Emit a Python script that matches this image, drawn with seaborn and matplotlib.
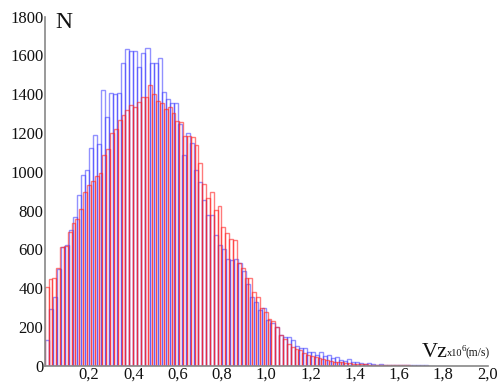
import matplotlib
matplotlib.use("Agg")
import matplotlib.pyplot as plt
import numpy as np
import pandas as pd
import seaborn as sns

# bin widths (units of 1e6 m/s), both series start at 0
blue_width = 0.0182
red_width = 0.01735

blue_counts = [
    133, 291, 356, 497, 612, 625, 700, 769, 880, 983,
    1009, 1124, 1190, 1143, 1422, 1281, 1408, 1400, 1408, 1559,
    1631, 1622, 1622, 1542, 1611, 1636, 1562, 1559, 1585, 1413,
    1374, 1356, 1356, 1245, 1087, 1198, 1150, 1009, 946, 855,
    776, 776, 673, 624, 604, 549, 544, 549, 531, 490,
    420, 353, 330, 290, 296, 236, 220, 198, 159, 147,
    147, 133, 100, 90, 92, 73, 73, 58, 73, 50,
    55, 40, 45, 30, 25, 35, 20, 22, 15, 10,
    12, 8, 6, 10, 6, 5, 6, 4, 6, 3,
    3, 3, 4, 2, 2, 1, 1, 1, 0, 0,
]
red_counts = [
    408, 447, 454, 502, 614, 619, 691, 734, 755, 807,
    897, 930, 950, 978, 992, 1087, 1117, 1202, 1219, 1267,
    1293, 1319, 1344, 1336, 1361, 1387, 1387, 1447, 1399, 1367,
    1353, 1322, 1332, 1302, 1263, 1258, 1185, 1182, 1180, 1138,
    1047, 939, 863, 894, 801, 822, 714, 683, 652, 647,
    531, 502, 451, 451, 379, 353, 300, 276, 240, 230,
    198, 160, 140, 110, 95, 85, 80, 64, 56, 51,
    44, 40, 33, 30, 25, 22, 20, 18, 14, 12,
    10, 8, 8, 7, 6, 5, 5, 4, 3, 3,
    3, 2, 2, 2, 2, 1, 1, 1, 1, 1,
]

x_ticks = [0.2, 0.4, 0.6, 0.8, 1.0, 1.2, 1.4, 1.6, 1.8, 2.0]
x_tick_labels = ["0,2", "0,4", "0,6", "0,8", "1,0", "1,2", "1,4", "1,6", "1,8", "2,0"]
y_ticks = [0, 200, 400, 600, 800, 1000, 1200, 1400, 1600, 1800]

sns.set_theme(style="white")
plt.rcParams["font.family"] = ["Liberation Serif", "DejaVu Serif"]


def to_frame(counts, width):
    edges = np.arange(len(counts) + 1) * width
    df = pd.DataFrame({"vz": (edges[:-1] + edges[1:]) / 2, "n": counts})
    return df, list(edges)


blue_df, blue_edges = to_frame(blue_counts, blue_width)
red_df, red_edges = to_frame(red_counts, red_width)

fig = plt.figure(figsize=(4.99, 3.83), dpi=100)
ax = fig.add_axes([0.0896, 0.0449, 0.8878, 0.9118])

sns.histplot(data=blue_df, x="vz", weights="n", bins=blue_edges, fill=False,
             element="bars", color="#3838ff", alpha=0.55, linewidth=1.0, ax=ax)
sns.histplot(data=red_df, x="vz", weights="n", bins=red_edges, fill=False,
             element="bars", color="#ff2222", alpha=0.6, linewidth=1.0, ax=ax)

ax.set_xlim(0, 2.0)
ax.set_ylim(0, 1800)
ax.set_xlabel("")
ax.set_ylabel("")
ax.set_xticks(x_ticks)
ax.set_xticklabels(x_tick_labels)
ax.set_yticks(y_ticks)
ax.tick_params(axis="both", direction="in", length=4, width=1, color="#888888",
               labelsize=12, labelcolor="#111111")
ax.tick_params(axis="x", pad=0.5)
ax.tick_params(axis="y", pad=1)

for side in ["top", "right"]:
    ax.spines[side].set_visible(False)
for side in ["left", "bottom"]:
    ax.spines[side].set_color("#888888")
    ax.spines[side].set_linewidth(1.2)

ink = "#111111"
fig.text(0.110, 0.927, "N", fontsize=17, color=ink, va="baseline", ha="left")
fig.text(0.845, 0.0687, "Vz", fontsize=16, color=ink, va="baseline", ha="left")
fig.text(0.896, 0.0705, "x10", fontsize=7.5, color=ink, va="baseline", ha="left")
fig.text(0.925, 0.083, "6", fontsize=6.5, color=ink, va="baseline", ha="left")
fig.text(0.933, 0.0705, "(m/s)", fontsize=8.3, color=ink, va="baseline", ha="left")

fig.savefig("out.png", dpi=100)
